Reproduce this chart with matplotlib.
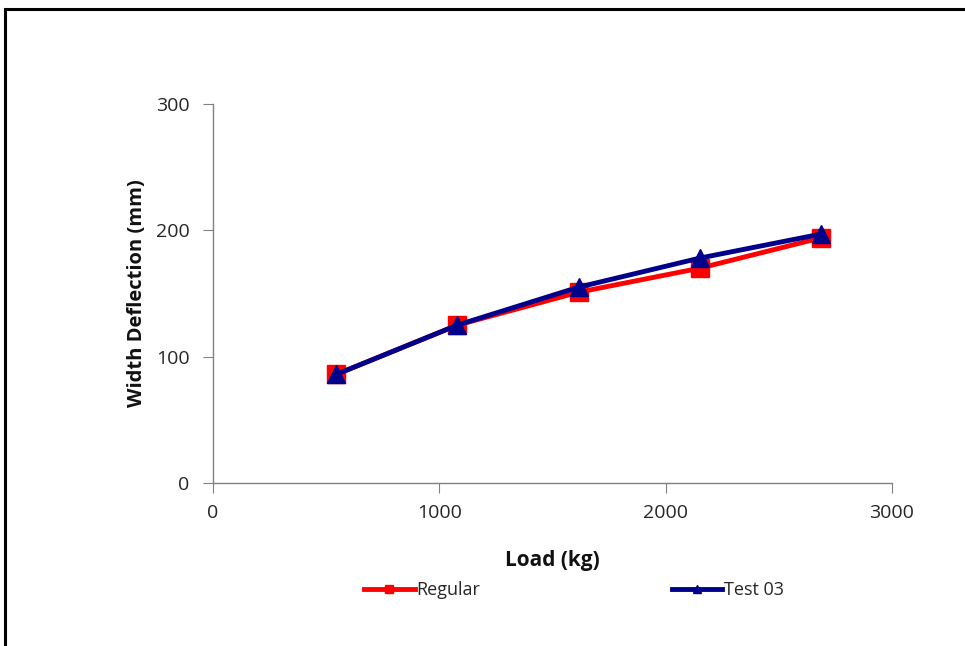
import matplotlib
matplotlib.use("Agg")
import matplotlib.pyplot as plt
from matplotlib.patches import Rectangle

# Data
load = [545, 1080, 1615, 2150, 2685]
regular = [86, 125, 151, 170, 194]
test03 = [86, 125, 155, 178, 197]

x_ticks = [0, 1000, 2000, 3000]
y_ticks = [0, 100, 200, 300]

plt.rcParams['font.family'] = ['Open Sans', 'DejaVu Sans']

fig = plt.figure(figsize=(9.65, 6.46), dpi=100)

# outer chart frame (left and top edges visible)
frame = Rectangle((5 / 965, -0.1), 1.2, 1 - 9 / 646 + 0.1, transform=fig.transFigure,
                  fill=False, edgecolor="black", linewidth=2.2)
fig.patches.append(frame)

ax = fig.add_axes([213 / 965, 1 - 483 / 646, (892 - 213) / 965, (483 - 104) / 646])

ax.plot(load, regular, color="#ff0000", linewidth=3.5, marker="s", markersize=13,
        label="Regular", zorder=3)
ax.plot(load, test03, color="#00008b", linewidth=3.5, marker="^", markersize=13,
        label="Test 03", zorder=4)

ax.set_xlim(0, 3000)
ax.set_ylim(0, 300)
ax.set_xticks(x_ticks)
ax.set_yticks(y_ticks)
ax.tick_params(axis="both", labelsize=14, length=7, color="#808080",
               labelcolor="#262626", direction="out")
ax.tick_params(axis="x", pad=8)
ax.tick_params(axis="y", pad=10)

for side in ["top", "right"]:
    ax.spines[side].set_visible(False)
for side in ["left", "bottom"]:
    ax.spines[side].set_color("#808080")
    ax.spines[side].set_linewidth(1)

ax.set_xlabel("Load (kg)", fontsize=15, fontweight="bold", labelpad=20, color="#111111")
ax.set_ylabel("Width Deflection (mm)", fontsize=14.5, fontweight="bold", labelpad=6,
              color="#111111")

leg = fig.legend(loc="center", bbox_to_anchor=(0.595, 1 - 590 / 646), ncol=2,
                 frameon=False, fontsize=13, columnspacing=10.6, handlelength=2.8,
                 handletextpad=0.1, markerscale=0.45)
for t in leg.get_texts():
    t.set_color("#262626")

fig.savefig("out.png", dpi=100)
